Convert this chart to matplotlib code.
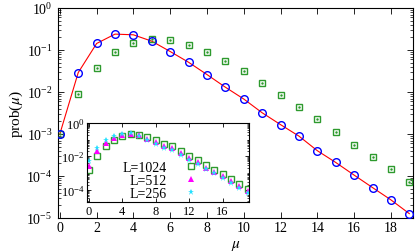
import numpy as np
import matplotlib
matplotlib.use('Agg')
import matplotlib.pyplot as plt
from matplotlib.ticker import LogLocator, LogFormatterMathtext, MultipleLocator, NullFormatter

plt.rcParams['font.family'] = ['Liberation Serif', 'DejaVu Serif']
plt.rcParams['mathtext.fontset'] = 'stix'

# ── main panel data ─────────────────────────────────────────────────────────
mu = list(range(20))
prob_fit = [1.0e-3, 0.029, 0.143, 0.239, 0.23, 0.162, 0.092, 0.051, 0.026, 0.013,
            0.0068, 0.0032, 0.00167, 8.9e-4, 4.0e-4, 2.1e-4, 1.05e-4, 5.3e-5, 2.7e-5, 1.27e-5]
prob_circ = prob_fit
prob_sq = [1.0e-3, 0.0089, 0.0367, 0.090, 0.148, 0.18, 0.17, 0.132, 0.090, 0.055,
           0.031, 0.0167, 0.0087, 0.0045, 0.0023, 0.00112, 5.6e-4, 2.8e-4, 1.44e-4, 7.1e-5]

# ── inset data ──────────────────────────────────────────────────────────────
ins_labels = ["L=1024", "L=512", "L=256"]
ins_1024 = [1.4e-3, 0.011, 0.041, 0.10, 0.165, 0.21, 0.20, 0.14, 0.09, 0.057,
            0.04, 0.021, 0.011, 0.0056, 0.0028, 0.0015, 8.1e-4, 4.1e-4, 2.1e-4, 1.1e-4]
ins_512 = [2.6e-3, 0.02, 0.063, 0.125, 0.2, 0.22, 0.18, 0.11, 0.07, 0.043,
           0.03, 0.016, 0.0081, 0.0043, 0.0021, 0.0012, 6.2e-4, 3.1e-4, 1.7e-4, 8e-5]
ins_256 = [5.1e-3, 0.031, 0.09, 0.16, 0.23, 0.24, 0.165, 0.095, 0.052, 0.031,
           0.023, 0.012, 0.0062, 0.0035, 0.0017, 9.3e-4, 4.9e-4, 2.4e-4, 1.3e-4, 6e-5]

GREEN = "#2e9a2e"
W, H = 415, 253
fig = plt.figure(figsize=(W / 100, H / 100), dpi=100)


def px_axes(l, t, r, b):
    return fig.add_axes([l / W, 1 - b / H, (r - l) / W, (b - t) / H])


ax = px_axes(58, 9, 413, 219)
ax.plot(mu, prob_fit, color="red", lw=0.8, zorder=2)
ax.plot(mu, prob_sq, ls="none", marker="s", ms=5, mfc="none", mec=GREEN, mew=1.0, zorder=3)
ax.plot(mu, prob_sq, ls="none", marker=".", ms=1.5, color=GREEN, zorder=3)
ax.plot(mu, prob_circ, ls="none", marker="o", ms=5.5, mfc="none", mec="blue", mew=1.0, zorder=4)

ax.set_yscale("log")
ax.set_xlim(-0.1, 19.2)
ax.set_ylim(1e-5, 1)
ax.xaxis.set_major_locator(MultipleLocator(2))
ax.yaxis.set_major_locator(LogLocator(base=10, numticks=10))
ax.yaxis.set_minor_locator(LogLocator(base=10, subs=np.arange(2, 10), numticks=10))
ax.yaxis.set_major_formatter(LogFormatterMathtext())
ax.yaxis.set_minor_formatter(NullFormatter())
ax.tick_params(which="both", direction="in", top=True, right=True, labelsize=10, pad=4)
ax.tick_params(axis="x", pad=2.5)
ax.tick_params(which="major", length=4, width=0.6)
ax.tick_params(which="minor", length=2, width=0.5)
for s in ax.spines.values():
    s.set_linewidth(0.8)
ax.set_xlabel(r"$\mu$", fontsize=11)
ax.xaxis.set_label_coords(0.5, -0.095)
ax.set_ylabel(r"prob($\mu$)", fontsize=11, labelpad=1)

# ── inset ───────────────────────────────────────────────────────────────────
ins = px_axes(87.3, 124, 249.3, 203.3)
ins.plot(mu, ins_1024, ls="none", marker="s", ms=4, mfc="none", mec=GREEN, mew=1.0, label=ins_labels[0])
ins.plot(mu, ins_512, ls="none", marker="^", ms=4, color="#ff00ff", mew=0, label=ins_labels[1])
ins.plot(mu, ins_256, ls="none", marker="*", ms=4.5, color="#22e0ff", mew=0, label=ins_labels[2])
ins.set_yscale("log")
ins.set_xlim(-0.2, 19.2)
ins.set_ylim(1.7e-5, 1)
ins.xaxis.set_major_locator(MultipleLocator(4))
ins.yaxis.set_major_locator(LogLocator(base=100, numticks=10))
ins.yaxis.set_minor_locator(LogLocator(base=10, subs=np.arange(1, 10), numticks=20))
ins.yaxis.set_major_formatter(LogFormatterMathtext(base=10))
ins.yaxis.set_minor_formatter(NullFormatter())
ins.tick_params(which="both", direction="in", top=True, right=True, labelsize=9, pad=2)
ins.tick_params(which="major", length=3, width=0.6)
ins.tick_params(which="minor", length=1.5, width=0.5)
for s in ins.spines.values():
    s.set_linewidth(0.8)
ins.legend(loc="upper right", bbox_to_anchor=(0.68, 0.52), markerfirst=False, frameon=False,
           fontsize=10, handlelength=1.0, handletextpad=1.2, labelspacing=0.0,
           borderpad=0, borderaxespad=0)

fig.savefig("out.png", dpi=100)
